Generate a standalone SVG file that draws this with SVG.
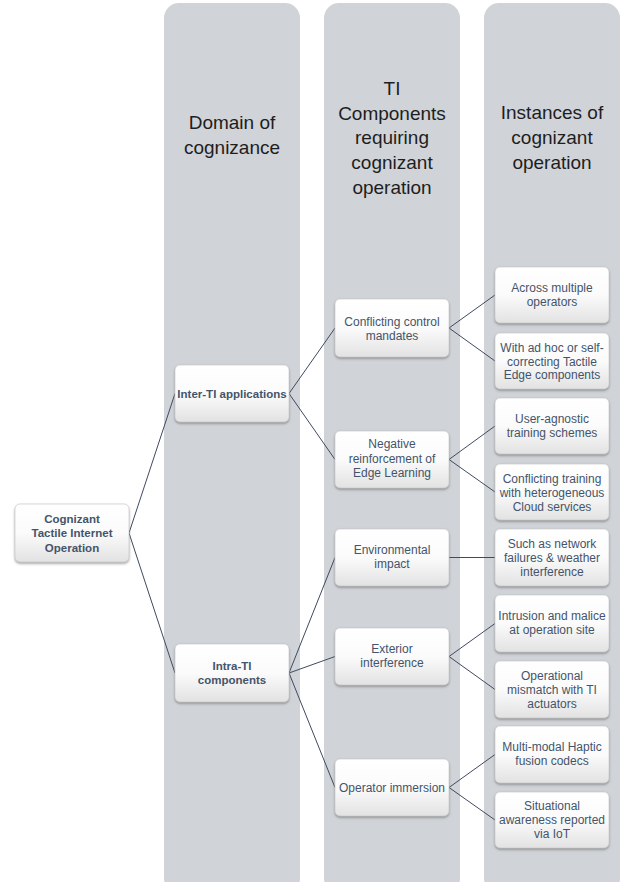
<svg xmlns="http://www.w3.org/2000/svg" width="622" height="882" viewBox="0 0 622 882">
  <defs>
    <linearGradient id="nodeGrad" x1="0" y1="0" x2="0" y2="1">
      <stop offset="0" stop-color="#ffffff"/>
      <stop offset="0.5" stop-color="#fbfbfb"/>
      <stop offset="1" stop-color="#e2e2e2"/>
    </linearGradient>
    <filter id="shadow" x="-10%" y="-10%" width="120%" height="130%">
      <feDropShadow dx="0" dy="1.5" stdDeviation="1" flood-color="#555" flood-opacity="0.55"/>
    </filter>
  </defs>
  <style>
    .col { fill: #d0d3d8; }
    .hdr { font-family: "Liberation Sans", Arial, sans-serif; font-size: 19px; fill: #1e1e1e; text-anchor: middle; }
    .box { fill: url(#nodeGrad); stroke: #c4c4c4; stroke-width: 0.6; filter: url(#shadow); }
    .lbl { font-family: "Liberation Sans", Arial, sans-serif; font-size: 12px; fill: #44546a; text-anchor: middle; }
    .bold { font-weight: bold; font-size: 11.5px; }
    .conn line { stroke: #3e4b60; stroke-width: 1; }
  </style>

  <rect width="622" height="882" fill="#ffffff"/>

  <g id="columns">
    <rect class="col" x="164" y="3" width="136" height="890" rx="15"/>
    <rect class="col" x="324" y="3" width="136" height="890" rx="15"/>
    <rect class="col" x="484" y="3" width="136" height="890" rx="15"/>
  </g>

  <g id="headers">
    <text class="hdr" x="232" y="129">Domain of</text>
    <text class="hdr" x="232" y="154">cognizance</text>
    <text class="hdr" x="392" y="95">TI</text>
    <text class="hdr" x="392" y="119.5">Components</text>
    <text class="hdr" x="392" y="144">requiring</text>
    <text class="hdr" x="392" y="169">cognizant</text>
    <text class="hdr" x="392" y="194">operation</text>
    <text class="hdr" x="552" y="119">Instances of</text>
    <text class="hdr" x="552" y="144">cognizant</text>
    <text class="hdr" x="552" y="169">operation</text>
  </g>

  <g id="connectors" class="conn">
    <line x1="129" y1="533" x2="175" y2="393.5"/>
    <line x1="129" y1="533" x2="175" y2="673"/>
    <line x1="289" y1="393.5" x2="335" y2="328"/>
    <line x1="289" y1="393.5" x2="335" y2="459.5"/>
    <line x1="289" y1="673" x2="335" y2="557.5"/>
    <line x1="289" y1="673" x2="335" y2="656.5"/>
    <line x1="289" y1="673" x2="335" y2="787.5"/>
    <line x1="449" y1="328" x2="495" y2="295"/>
    <line x1="449" y1="328" x2="495" y2="361"/>
    <line x1="449" y1="459.5" x2="495" y2="426"/>
    <line x1="449" y1="459.5" x2="495" y2="492"/>
    <line x1="449" y1="557.5" x2="495" y2="557.5"/>
    <line x1="449" y1="656.5" x2="495" y2="623.5"/>
    <line x1="449" y1="656.5" x2="495" y2="689.5"/>
    <line x1="449" y1="787.5" x2="495" y2="754.5"/>
    <line x1="449" y1="787.5" x2="495" y2="820"/>
  </g>

  <g id="root">
    <rect class="box" x="15" y="504" width="114" height="58" rx="5"/>
    <text class="lbl bold" x="72" y="522.5">Cognizant</text>
    <text class="lbl bold" x="72" y="537">Tactile Internet</text>
    <text class="lbl bold" x="72" y="551.5">Operation</text>
  </g>

  <g id="inter-ti">
    <rect class="box" x="175" y="365" width="114" height="57" rx="5"/>
    <text class="lbl bold" x="232" y="397.5">Inter-TI applications</text>
  </g>

  <g id="intra-ti">
    <rect class="box" x="175" y="644" width="114" height="58" rx="5"/>
    <text class="lbl bold" x="232" y="670">Intra-TI</text>
    <text class="lbl bold" x="232" y="684">components</text>
  </g>

  <g id="conflicting-control">
    <rect class="box" x="335" y="299" width="114" height="58" rx="5"/>
    <text class="lbl" x="392" y="325.5">Conflicting control</text>
    <text class="lbl" x="392" y="339.5">mandates</text>
  </g>

  <g id="negative-reinforcement">
    <rect class="box" x="335" y="431" width="114" height="57" rx="5"/>
    <text class="lbl" x="392" y="448">Negative</text>
    <text class="lbl" x="392" y="462.5">reinforcement of</text>
    <text class="lbl" x="392" y="477">Edge Learning</text>
  </g>

  <g id="environmental-impact">
    <rect class="box" x="335" y="529" width="114" height="57" rx="5"/>
    <text class="lbl" x="392" y="554">Environmental</text>
    <text class="lbl" x="392" y="568">impact</text>
  </g>

  <g id="exterior-interference">
    <rect class="box" x="335" y="628" width="114" height="57" rx="5"/>
    <text class="lbl" x="392" y="653">Exterior</text>
    <text class="lbl" x="392" y="667">interference</text>
  </g>

  <g id="operator-immersion">
    <rect class="box" x="335" y="759" width="114" height="57" rx="5"/>
    <text class="lbl" x="392" y="791.5">Operator immersion</text>
  </g>

  <g id="across-operators">
    <rect class="box" x="495" y="267" width="114" height="56" rx="5"/>
    <text class="lbl" x="552" y="291.5">Across multiple</text>
    <text class="lbl" x="552" y="305.5">operators</text>
  </g>

  <g id="ad-hoc">
    <rect class="box" x="495" y="333" width="114" height="56" rx="5"/>
    <text class="lbl" x="552" y="352">With ad hoc or self-</text>
    <text class="lbl" x="552" y="365.5">correcting Tactile</text>
    <text class="lbl" x="552" y="379">Edge components</text>
  </g>

  <g id="user-agnostic">
    <rect class="box" x="495" y="398" width="114" height="56" rx="5"/>
    <text class="lbl" x="552" y="423">User-agnostic</text>
    <text class="lbl" x="552" y="437">training schemes</text>
  </g>

  <g id="conflicting-training">
    <rect class="box" x="495" y="464" width="114" height="56" rx="5"/>
    <text class="lbl" x="552" y="482.5">Conflicting training</text>
    <text class="lbl" x="552" y="496.5">with heterogeneous</text>
    <text class="lbl" x="552" y="510.5">Cloud services</text>
  </g>

  <g id="network-failures">
    <rect class="box" x="495" y="529" width="114" height="57" rx="5"/>
    <text class="lbl" x="552" y="547.5">Such as network</text>
    <text class="lbl" x="552" y="561.5">failures &amp; weather</text>
    <text class="lbl" x="552" y="575.5">interference</text>
  </g>

  <g id="intrusion">
    <rect class="box" x="495" y="595" width="114" height="57" rx="5"/>
    <text class="lbl" x="552" y="620">Intrusion and malice</text>
    <text class="lbl" x="552" y="634">at operation site</text>
  </g>

  <g id="operational-mismatch">
    <rect class="box" x="495" y="661" width="114" height="57" rx="5"/>
    <text class="lbl" x="552" y="679.5">Operational</text>
    <text class="lbl" x="552" y="693.5">mismatch with TI</text>
    <text class="lbl" x="552" y="707.5">actuators</text>
  </g>

  <g id="haptic-codecs">
    <rect class="box" x="495" y="726" width="114" height="57" rx="5"/>
    <text class="lbl" x="552" y="751">Multi-modal Haptic</text>
    <text class="lbl" x="552" y="765">fusion codecs</text>
  </g>

  <g id="situational-awareness">
    <rect class="box" x="495" y="792" width="114" height="56" rx="5"/>
    <text class="lbl" x="552" y="810">Situational</text>
    <text class="lbl" x="552" y="824">awareness reported</text>
    <text class="lbl" x="552" y="838">via IoT</text>
  </g>
</svg>
